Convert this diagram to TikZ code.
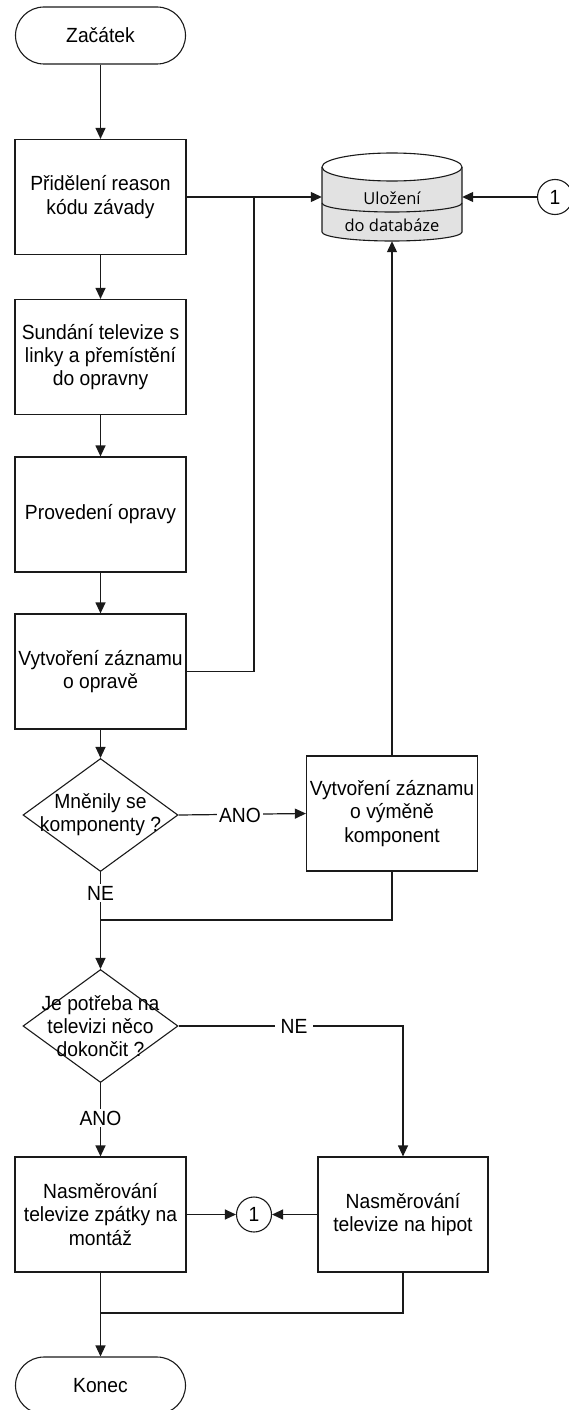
\documentclass[tikz,border=0pt]{standalone}
\usepackage{fontspec}
\setmainfont{Liberation Sans}[FakeStretch=0.94]
\newfontfamily\dbfont{Open Sans}
\usetikzlibrary{arrows.meta,shapes.geometric,calc}

\definecolor{lineclr}{HTML}{1A1A1A}
\definecolor{dbgray}{HTML}{E2E2E2}

\begin{document}
\begin{tikzpicture}[x=1pt,y=-1pt,
  every node/.style={font=\fontsize{20.5}{23.3}\selectfont, text=black},
  stepbox/.style={draw=lineclr, line width=1.2pt, fill=white, minimum width=171pt,
    minimum height=115pt, inner sep=0pt, align=center},
  terminal/.style={draw=lineclr, line width=1.1pt, fill=white, rounded corners=28.5pt,
    minimum width=170pt, minimum height=57pt, inner sep=0pt},
  decision/.style={draw=lineclr, line width=1.1pt, fill=white, diamond, aspect=1.37,
    minimum width=155pt, minimum height=113pt, inner sep=0pt},
  txt/.style={align=center, inner sep=0pt},
  conn/.style={draw=lineclr, line width=1.1pt, fill=white, circle,
    minimum size=35pt, inner sep=0pt},
  lbl/.style={fill=white, inner sep=2pt},
  line/.style={draw=lineclr, line width=1.2pt},
  arrow/.style={line, -{Triangle[length=11pt,width=10pt]}}
]
\useasboundingbox (0,0) rectangle (569,1410);

% left column
\node[terminal] (start) at (100.5,35.5) {Začátek};
\node[stepbox] (b1) at (100.5,197) {Přidělení reason\\kódu závady};
\node[stepbox] (b2) at (100.5,357) {Sundání televize s\\linky a přemístění\\do opravny};
\node[stepbox] (b3) at (100.5,514.5) {Provedení opravy};
\node[stepbox] (b4) at (100.5,671.5) {Vytvoření záznamu\\o opravě};
\node[decision] (d1) at (100.5,815) {};
\node[txt] at (d1) {Mněnily se\\komponenty ?};
\node[decision] (d2) at (100.5,1026) {};
\node[txt] at (d2) {Je potřeba na\\televizi něco\\dokončit ?};
\node[stepbox] (b6) at (100.5,1214.5) {Nasměrování\\televize zpátky na\\montáž};
\node[terminal] (stop) at (100.5,1385.5) {Konec};

% right column
\node[stepbox] (b5) at (392,813.5) {Vytvoření záznamu\\o výměně\\komponent};
\node[stepbox, minimum width=170pt] (b7) at (403,1214.5) {Nasměrování\\televize na hipot};
\node[conn] (c1b) at (254,1214.5) {1};
\node[conn] (c1t) at (555,197) {1};

% database cylinder
\node[minimum width=140pt, minimum height=88pt, inner sep=0pt] (db) at (392,197) {};
\fill[dbgray] (322,167) -- (322,232) arc[start angle=180, end angle=0, x radius=70, y radius=9]
  -- (462,167) -- cycle;
\filldraw[fill=white, draw=lineclr, line width=1.1pt] (392,167) ellipse[x radius=70, y radius=14];
\draw[line, line width=1.1pt] (322,167) -- (322,232) arc[start angle=180, end angle=0, x radius=70, y radius=9]
  -- (462,167);
\draw[line, line width=1.1pt] (322,203) arc[start angle=180, end angle=0, x radius=70, y radius=9];
\node[font=\dbfont\fontsize{16.5}{18}\selectfont, inner sep=0pt] at (392,198.5) {Uložení};
\node[font=\dbfont\fontsize{16.5}{18}\selectfont, inner sep=0pt] at (392,225) {do databáze};

% junction points
\coordinate (j1) at (254,197);
\coordinate (j2) at (100.5,920);
\coordinate (j3) at (100.5,1313);

% main flow
\draw[arrow] (start) -- (b1);
\draw[arrow] (b1) -- (b2);
\draw[arrow] (b2) -- (b3);
\draw[arrow] (b3) -- (b4);
\draw[arrow] (b4) -- (d1);
\draw[arrow] (d1.south) -- (d2.north);
\draw[arrow] (d2.south) -- (b6.north);
\draw[arrow] (b6.south) -- (stop.north);

% records into the database
\draw[arrow] (b1.east) -- (db.west);
\draw[line] (b4.east) -| (j1);
\draw[arrow] (c1t.west) -- (db.east);
\draw[arrow] (b5.north) -- (db.south);

% branches
\draw[arrow] (d1.east) -- (b5.west);
\draw[line] (b5.south) |- (j2);
\draw[arrow] (d2.east) -| (b7.north);
\draw[arrow] (b6.east) -- (c1b.west);
\draw[arrow] (b7.west) -- (c1b.east);
\draw[line] (b7.south) |- (j3);

% branch labels
\node[lbl] at (240,815) {ANO};
\node[lbl] at (100.5,893) {NE};
\node[lbl, inner xsep=6pt] at (294,1026) {NE};
\node[lbl] at (100.5,1118) {ANO};
\end{tikzpicture}
\end{document}
